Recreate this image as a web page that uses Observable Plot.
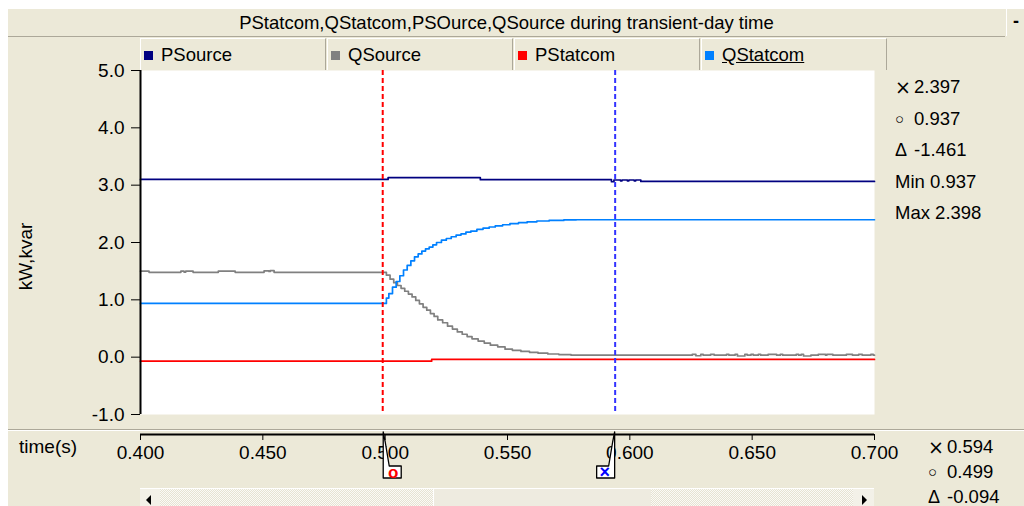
<!DOCTYPE html>
<html>
<head>
<meta charset="utf-8">
<script src="https://cdn.jsdelivr.net/npm/d3@7"></script>
<script src="https://cdn.jsdelivr.net/npm/@observablehq/plot@0.6"></script>
<style>
  html, body { margin: 0; padding: 0; background: #fff; }
  #wrap { position: relative; width: 1024px; height: 506px; overflow: hidden;
          font-family: "Liberation Sans", Arial, sans-serif; color: #000; }
  #panel { position: absolute; left: 8px; top: 9px; right: 0; bottom: 0; background: #ECE9D8; }
  #title { position: absolute; left: 8px; top: 9px; width: 997px; height: 27px;
           border-bottom: 1px solid #ACA899; font-size: 18.5px; line-height: 27px; text-align: center; }
  #minbtn { position: absolute; left: 1006px; top: 9px; width: 18px; height: 27px;
            border-left: 1px solid #fff; font-size: 18px; line-height: 25px; text-align: center; font-weight: bold; }
  .cell { position: absolute; top: 38px; height: 32px; width: 186px; box-sizing: border-box;
          border-top: 1px solid #fff; border-left: 1px solid #fff; border-right: 1px solid #ACA899;
          font-size: 18.5px; line-height: 32px; padding-left: 20px; }
  .cell .sw { position: absolute; left: 3px; top: 12px; width: 9px; height: 9px; }
  .read { position: absolute; font-size: 18.5px; line-height: 22px; white-space: nowrap; }
  .read .g { display: inline-block; width: 19px; text-align: left; vertical-align: top; }
  .read .g.x { font-family: "DejaVu Sans", sans-serif; font-size: 19px; line-height: 22px; }
  .read .g.o { font-size: 15px; }
  .read .g.d { font-size: 18px; }
  #sep { position: absolute; left: 8px; right: 0; top: 429px; height: 1px; background: #ACA899;
         border-bottom: 1px solid #fff; }
  #xlab { position: absolute; left: 19px; top: 436px; font-size: 19px; line-height: 22px; }
  #track { position: absolute; left: 140px; top: 488px; width: 734px; height: 18px;
           border-top: 1px solid #fff;
           background: repeating-conic-gradient(#fbfaf6 0 25%, #e6e3d3 0 50%) 0 0 / 2px 2px; }
  #thumb { position: absolute; left: 293px; top: 0; width: 217px; height: 18px; background: #EEEBE0;
           border-left: 1px solid #fff; }
  .btn { position: absolute; top: 0; width: 20px; height: 18px; background: #F3F1E8; }
  .arrow { position: absolute; top: 6px; width: 0; height: 0; border-top: 5px solid transparent;
           border-bottom: 5px solid transparent; }
  svg.chart { position: absolute; left: 0; top: 0; }
</style>
</head>
<body>
<div id="wrap">
  <div id="panel"></div>
  <div id="title">PStatcom,QStatcom,PSOurce,QSource during transient-day time</div>
  <div id="minbtn">-</div>
  <div id="legend"></div>
  <div id="sep"></div>
  <div id="xlab">time(s)</div>
  <div id="track">
    <div class="btn" style="left:0"><div class="arrow" style="left:6px;border-right:5px solid #000"></div></div>
    <div id="thumb"></div>
    <div class="btn" style="left:713px;width:21px"><div class="arrow" style="left:9px;border-left:5px solid #000"></div></div>
  </div>
  <div id="readouts"></div>
</div>
<script>
// Series: time (s) and value (kW / kvar), drawn as stepped traces
const pSourceT = [0.400, 0.5012, 0.5389, 0.5925, 0.5935, 0.5962, 0.5968, 0.5990, 0.5996, 0.6018, 0.6024, 0.6045, 0.700];
const pSourceV = [3.10, 3.13, 3.095, 3.06, 3.09, 3.075, 3.09, 3.075, 3.09, 3.075, 3.09, 3.065, 3.065];

const qSourceT = [0.400, 0.4035, 0.4165, 0.4178, 0.4185, 0.4215, 0.4318, 0.4387, 0.4505, 0.4525, 0.4530, 0.4546, 0.4993,
  0.5005, 0.5020, 0.5035, 0.5050, 0.5065, 0.5080, 0.5095, 0.5110, 0.5125, 0.5140, 0.5155, 0.5170, 0.5185, 0.5200,
  0.5215, 0.5235, 0.5255, 0.5275, 0.5295, 0.5315, 0.5335, 0.5355, 0.5380, 0.5405, 0.5430, 0.5460, 0.5490, 0.5520,
  0.5555, 0.5590, 0.5625, 0.5665, 0.5710, 0.5760,
  0.6255, 0.6270, 0.6290, 0.6300, 0.6330, 0.6345, 0.6395, 0.6405, 0.6430, 0.6440, 0.6470, 0.6480, 0.6495, 0.6505,
  0.6525, 0.6535, 0.6565, 0.6600, 0.6615, 0.6625, 0.6680, 0.6690, 0.6700, 0.6710, 0.6740, 0.6770, 0.6800, 0.6805,
  0.6830, 0.6885, 0.6910, 0.6935, 0.6950, 0.6985, 0.6995, 0.700];
const qSourceV = [1.50, 1.48, 1.50, 1.485, 1.50, 1.48, 1.50, 1.48, 1.505, 1.495, 1.51, 1.48, 1.48,
  1.43, 1.36, 1.30, 1.25, 1.20, 1.15, 1.10, 1.05, 0.99, 0.93, 0.87, 0.82, 0.76, 0.71,
  0.65, 0.60, 0.54, 0.49, 0.44, 0.40, 0.36, 0.32, 0.28, 0.245, 0.21, 0.18, 0.14, 0.12,
  0.10, 0.085, 0.07, 0.055, 0.045, 0.035,
  0.05, 0.025, 0.05, 0.035, 0.05, 0.035, 0.05, 0.035, 0.05, 0.02, 0.05, 0.035, 0.05, 0.035,
  0.05, 0.035, 0.05, 0.035, 0.05, 0.035, 0.05, 0.035, 0.05, 0.02, 0.035, 0.05, 0.035, 0.05,
  0.035, 0.05, 0.035, 0.05, 0.035, 0.05, 0.035, 0.035];

const pStatcomT = [0.400, 0.5190, 0.700];
const pStatcomV = [-0.07, -0.04, -0.04];

const qStatcomT = [0.400, 0.4995, 0.5005, 0.5015, 0.5030, 0.5045, 0.5060, 0.5075, 0.5090, 0.5105, 0.5120, 0.5135,
  0.5150, 0.5165, 0.5180, 0.5195, 0.5210, 0.5230, 0.5250, 0.5270, 0.5290, 0.5310, 0.5330, 0.5350, 0.5375, 0.5400,
  0.5425, 0.5450, 0.5480, 0.5510, 0.5545, 0.5580, 0.5620, 0.5670, 0.5730, 0.5780, 0.700];
const qStatcomV = [0.937, 0.937, 1.03, 1.11, 1.22, 1.32, 1.42, 1.52, 1.60, 1.68, 1.75, 1.80,
  1.85, 1.89, 1.92, 1.96, 2.00, 2.04, 2.07, 2.10, 2.13, 2.15, 2.18, 2.20, 2.23, 2.25,
  2.27, 2.29, 2.31, 2.33, 2.345, 2.36, 2.375, 2.385, 2.393, 2.397, 2.397];

const seriesNames = ["PSource", "QSource", "PStatcom", "QStatcom"];
const seriesColors = ["#000080", "#808080", "#ff0000", "#0080ff"];

// Cursor positions (s) and cursor readouts
const cursorX = 0.594;   // "×" cursor
const cursorO = 0.499;   // "○" cursor
const valueReadouts = ["× 2.397", "○ 0.937", "Δ -1.461", "Min 0.937", "Max 2.398"];
const timeReadouts = ["× 0.594", "○ 0.499", "Δ -0.094"];

// Axis ticks
const xTicks = [0.400, 0.450, 0.500, 0.550, 0.600, 0.650, 0.700];
const yTicks = [-1, 0, 1, 2, 3, 4, 5];

const toRows = (T, V) => T.map((t, i) => ({t, v: V[i]}));
const series = [
  toRows(pSourceT, pSourceV),
  toRows(qSourceT, qSourceV),
  toRows(pStatcomT, pStatcomV),
  toRows(qStatcomT, qStatcomV)
];

// Legend strip
const legend = document.getElementById("legend");
seriesNames.forEach((name, i) => {
  const c = document.createElement("div");
  c.className = "cell";
  c.style.left = (140 + i * 187) + "px";
  c.innerHTML = `<span class="sw" style="background:${seriesColors[i]}"></span>` +
    (name === "QStatcom" ? `<span style="text-decoration:underline">${name}</span>` : name);
  legend.appendChild(c);
});

// Cursor readouts
const ro = document.getElementById("readouts");
const glyphClass = {"×": "x", "○": "o", "Δ": "d"};
const glyphLine = s => {
  const m = s.match(/^([×○Δ]) (.*)$/);
  return m ? `<span class="g ${glyphClass[m[1]]}">${m[1]}</span>${m[2]}` : s;
};
valueReadouts.forEach((s, i) => {
  const d = document.createElement("div");
  d.className = "read";
  d.style.left = "895px";
  d.style.top = (76 + i * 31.5) + "px";
  d.innerHTML = glyphLine(s);
  ro.appendChild(d);
});
timeReadouts.forEach((s, i) => {
  const d = document.createElement("div");
  d.className = "read";
  d.style.left = "928px";
  d.style.top = (436 + i * 25) + "px";
  d.innerHTML = glyphLine(s);
  ro.appendChild(d);
});

const chart = Plot.plot({
  width: 1024,
  height: 506,
  marginLeft: 140,
  marginRight: 150,
  marginTop: 70,
  marginBottom: 92,
  style: {background: "transparent", fontFamily: "Liberation Sans, Arial, sans-serif", fontSize: "19px", color: "#000"},
  x: {domain: [0.4, 0.7], axis: null},
  y: {domain: [-1, 5], axis: null},
  marks: [
    Plot.frame({fill: "white", stroke: null}),
    ...series.map((rows, i) =>
      Plot.line(rows, {x: "t", y: "v", curve: "step-after", stroke: seriesColors[i], strokeWidth: 1.7})),
    Plot.ruleX([cursorO], {stroke: "#ff0000", strokeWidth: 2, strokeDasharray: "5,3"}),
    Plot.ruleX([cursorX], {stroke: "#3333ff", strokeWidth: 2, strokeDasharray: "5,3"}),
    Plot.ruleX([0.4], {stroke: "#000", strokeWidth: 2}),
    Plot.axisY({ticks: yTicks, tickFormat: d => d.toFixed(1), tickSize: 9, tickPadding: 7, fontSize: 19, label: null}),
    Plot.ruleY([-1], {dy: 20, stroke: "#000", strokeWidth: 2}),
    Plot.axisX({ticks: xTicks, tickFormat: d => d.toFixed(3), tickSize: 6, tickPadding: 5, dy: 20, fontSize: 19, label: null}),
    Plot.text(["kW,kvar"], {frameAnchor: "left", textAnchor: "middle", rotate: -90, dx: -115, dy: 14, fontSize: 19})
  ]
});
chart.classList.add("chart");
document.getElementById("wrap").appendChild(chart);

// Cursor handles below the time axis, placed with the chart's x scale
const xs = chart.scale("x");
const ys = chart.scale("y");
const svg = d3.select(chart);
const base = ys.apply(-1) + 20;
const handles = [
  {t: cursorO, dir: 1, glyph: "o", color: "#ff0000"},
  {t: cursorX, dir: -1, glyph: "×", color: "#0000ff"}
];
handles.forEach(h => {
  const cx = xs.apply(h.t) + (h.dir > 0 ? 1 : 0);
  const d = h.dir;
  svg.append("path")
    .attr("d", `M${cx},${base - 2} V${base + 44} H${cx + d * 18} V${base + 32} H${cx + d * 6} L${cx + d * 2},${base + 8} Z`)
    .attr("fill", "#fff")
    .attr("stroke", "#000")
    .attr("stroke-width", 1.3)
    .attr("stroke-linejoin", "round");
  svg.append("text")
    .attr("x", cx + d * 10)
    .attr("y", base + 38)
    .attr("text-anchor", "middle")
    .attr("dominant-baseline", "central")
    .attr("fill", h.color)
    .attr("font-weight", "bold")
    .attr("font-size", h.glyph === "o" ? 17 : 18)
    .text(h.glyph);
});
</script>
</body>
</html>
